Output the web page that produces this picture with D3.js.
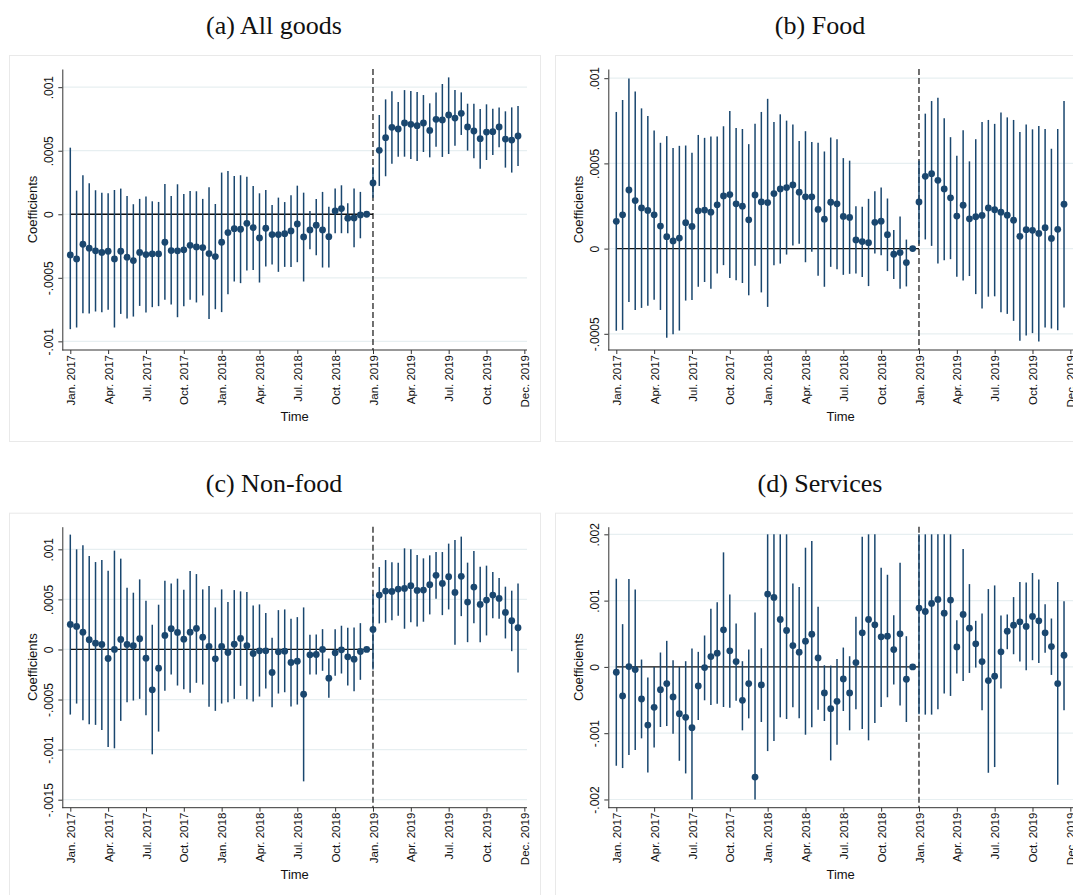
<!DOCTYPE html>
<html>
<head>
<meta charset="utf-8">
<script src="https://cdn.jsdelivr.net/npm/d3@7"></script>
<style>
  html, body { margin: 0; padding: 0; background: #fff; }
  svg { display: block; }
</style>
</head>
<body>
<svg id="chart" width="1073" height="895"></svg>
<script>
// ---------- DATA (coefficients in units of 0.001; semi-monthly periods 0..71, Jan 2019 = 48, period 47 omitted) ----------
const xTickPeriods = [0, 6, 12, 18, 24, 30, 36, 42, 48, 54, 60, 66, 72];
const xTickLabels = ["Jan. 2017","Apr. 2017","Jul. 2017","Oct. 2017","Jan. 2018","Apr. 2018","Jul. 2018","Oct. 2018","Jan. 2019","Apr. 2019","Jul. 2019","Oct. 2019","Dec. 2019"];
const treatPeriod = 48;

const allGoodsCoef = [-0.320,-0.351,-0.236,-0.267,-0.288,-0.301,-0.291,-0.351,-0.291,-0.338,
  -0.364,-0.301,-0.317,-0.312,-0.312,-0.220,-0.286,-0.288,-0.280,-0.244,
  -0.257,-0.262,-0.309,-0.333,-0.220,-0.144,-0.113,-0.118,-0.071,-0.105,
  -0.186,-0.110,-0.160,-0.160,-0.153,-0.131,-0.076,-0.178,-0.123,-0.086,
  -0.123,-0.176,0.026,0.045,-0.031,-0.029,-0.005,0,
  0.246,0.503,0.603,0.684,0.671,0.718,0.708,0.697,0.718,0.660,
  0.747,0.742,0.781,0.757,0.794,0.687,0.655,0.595,0.647,0.650,
  0.687,0.592,0.584,0.616];
const allGoodsHi = [0.524,0.186,0.307,0.244,0.189,0.170,0.165,0.191,0.202,0.144,
  0.079,0.121,0.139,0.102,0.097,0.238,0.144,0.236,0.160,0.183,
  0.181,0.121,0.212,0.081,0.328,0.341,0.301,0.307,0.296,0.223,
  0.165,0.191,0.073,0.131,0.096,0.149,0.225,0.170,0.026,0.121,
  0.176,0.060,0.202,0.228,0.086,0.202,0.176,null,
  0.37,0.781,0.904,0.967,0.883,0.977,0.970,0.962,0.938,0.873,
  0.959,1.025,1.077,0.977,0.959,0.870,0.870,0.828,0.865,0.831,
  0.841,0.810,0.841,0.852];
const allGoodsLo = [-0.904,-0.891,-0.778,-0.781,-0.765,-0.770,-0.752,-0.891,-0.784,-0.820,
  -0.805,-0.721,-0.773,-0.731,-0.723,-0.673,-0.710,-0.810,-0.723,-0.673,
  -0.694,-0.639,-0.825,-0.747,-0.770,-0.629,-0.529,-0.542,-0.443,-0.438,
  -0.537,-0.411,-0.396,-0.453,-0.414,-0.414,-0.377,-0.529,-0.275,-0.322,
  -0.419,-0.419,-0.149,-0.149,-0.149,-0.259,-0.189,null,
  0.13,0.223,0.299,0.398,0.453,0.453,0.435,0.419,0.490,0.448,
  0.532,0.451,0.474,0.540,0.624,0.501,0.440,0.359,0.427,0.466,
  0.527,0.367,0.328,0.380];

const foodCoef = [0.160,0.198,0.344,0.282,0.239,0.224,0.198,0.132,0.070,0.045,
  0.062,0.152,0.130,0.222,0.226,0.214,0.257,0.309,0.317,0.263,
  0.249,0.169,0.315,0.274,0.270,0.323,0.350,0.358,0.374,0.331,
  0.304,0.304,0.230,0.173,0.272,0.263,0.189,0.183,0.051,0.041,
  0.035,0.154,0.161,0.082,-0.033,-0.023,-0.082,0,
  0.274,0.424,0.440,0.401,0.350,0.298,0.191,0.255,0.175,0.187,
  0.195,0.239,0.228,0.214,0.196,0.167,0.072,0.111,0.107,0.089,
  0.123,0.060,0.113,0.261];
const foodHi = [0.802,0.872,0.998,0.922,0.823,0.778,0.693,0.621,0.660,0.591,
  0.603,0.605,0.562,0.667,0.650,0.658,0.658,0.718,0.807,0.708,
  0.702,0.613,0.733,0.802,0.879,0.743,0.788,0.751,0.728,0.632,
  0.689,0.626,0.621,0.570,0.652,0.642,0.531,0.516,0.249,0.245,
  0.292,0.337,0.358,0.294,0.109,0.189,0.053,null,
  0.516,0.792,0.866,0.885,0.765,0.654,0.545,0.695,0.512,0.642,
  0.743,0.755,0.732,0.798,0.770,0.755,0.685,0.728,0.700,0.720,
  0.702,0.586,0.702,0.866];
const foodLo = [-0.482,-0.477,-0.313,-0.360,-0.348,-0.335,-0.300,-0.360,-0.523,-0.502,
  -0.481,-0.305,-0.302,-0.224,-0.196,-0.235,-0.146,-0.097,-0.173,-0.185,
  -0.202,-0.274,-0.101,-0.257,-0.342,-0.097,-0.088,-0.035,0.018,0.029,
  -0.080,-0.019,-0.160,-0.224,-0.107,-0.121,-0.154,-0.148,-0.146,-0.167,
  -0.220,-0.029,-0.039,-0.132,-0.179,-0.235,-0.222,null,
  0.029,0.054,0.016,-0.088,-0.068,-0.062,-0.165,-0.187,-0.161,-0.267,
  -0.352,-0.282,-0.280,-0.374,-0.383,-0.424,-0.541,-0.510,-0.496,-0.545,
  -0.463,-0.469,-0.479,-0.346];

const nonFoodCoef = [0.250,0.230,0.173,0.097,0.063,0.050,-0.090,0.000,0.100,0.050,
  0.037,0.107,-0.087,-0.403,-0.187,0.140,0.207,0.170,0.103,0.173,
  0.210,0.123,0.030,-0.093,0.030,-0.030,0.053,0.110,0.037,-0.040,
  -0.013,-0.013,-0.230,-0.023,-0.017,-0.130,-0.117,-0.447,-0.053,-0.050,
  0.000,-0.287,-0.033,-0.003,-0.073,-0.097,-0.020,0,
  0.200,0.543,0.583,0.580,0.603,0.610,0.637,0.590,0.593,0.647,
  0.740,0.660,0.727,0.570,0.730,0.473,0.623,0.450,0.493,0.543,
  0.510,0.370,0.287,0.217];
const nonFoodHi = [1.147,1.000,1.040,0.933,0.873,0.893,0.787,0.987,0.907,0.617,
  0.567,0.700,0.487,0.247,0.447,0.687,0.660,0.707,0.597,0.783,
  0.753,0.600,0.633,0.420,0.600,0.473,0.593,0.580,0.573,0.440,
  0.450,0.363,0.117,0.393,0.400,0.307,0.323,0.420,0.147,0.150,
  0.203,-0.090,0.203,0.237,0.217,0.220,0.263,null,
  0.55,0.823,0.893,0.870,0.867,1.010,1.000,0.943,0.910,0.940,
  0.973,0.973,1.057,1.093,1.127,0.867,0.983,0.827,0.837,0.773,
  0.713,0.627,0.587,0.660];
const nonFoodLo = [-0.650,-0.540,-0.707,-0.747,-0.753,-0.803,-0.973,-0.987,-0.713,-0.527,
  -0.510,-0.493,-0.657,-1.047,-0.820,-0.413,-0.250,-0.360,-0.397,-0.433,
  -0.333,-0.350,-0.573,-0.613,-0.540,-0.527,-0.493,-0.363,-0.497,-0.520,
  -0.470,-0.390,-0.577,-0.440,-0.427,-0.570,-0.550,-1.317,-0.250,-0.250,
  -0.213,-0.483,-0.263,-0.240,-0.360,-0.417,-0.303,null,
  -0.2,0.260,0.267,0.293,0.337,0.207,0.273,0.230,0.277,0.350,
  0.507,0.343,0.400,0.047,0.333,0.073,0.263,0.073,0.140,0.313,
  0.307,0.110,-0.017,-0.230];

const servicesCoef = [-0.081,-0.438,0.005,-0.040,-0.484,-0.877,-0.610,-0.343,-0.252,-0.453,
  -0.705,-0.761,-0.917,-0.287,-0.010,0.156,0.207,0.559,0.242,0.081,
  -0.504,-0.252,-1.662,-0.272,1.098,1.048,0.715,0.549,0.322,0.222,
  0.388,0.494,0.136,-0.393,-0.630,-0.519,-0.181,-0.393,0.065,0.514,
  0.715,0.635,0.453,0.463,0.262,0.499,-0.186,0,
  0.887,0.836,0.957,1.018,0.811,1.008,0.302,0.791,0.584,0.348,
  0.081,-0.207,-0.141,0.227,0.539,0.630,0.680,0.610,0.761,0.695,
  0.514,0.307,-0.252,0.176];
const servicesHi = [1.330,0.645,1.325,1.169,0.111,-0.161,0.000,0.217,0.393,0.101,
  0.000,0.086,0.277,0.227,0.474,0.877,0.977,1.728,1.093,0.655,
  0.086,0.262,0.821,0.282,3.4,3.2,2.2,2.05,1.259,1.204,
  1.798,1.899,0.907,0.025,0.020,0.121,0.292,0.161,0.756,1.965,
  2.5,2.1,1.496,1.390,0.781,1.572,0.463,null,
  2.5,2.4,2.6,2.7,2.05,2.45,0.705,1.778,1.249,0.695,
  0.806,1.174,1.229,0.776,0.791,1.053,1.280,1.275,1.416,1.320,
  0.947,0.730,1.280,0.992];
const servicesLo = [-1.491,-1.526,-1.330,-1.254,-1.078,-1.592,-1.214,-0.907,-0.892,-1.008,
  -1.416,-1.607,-2.1,-0.801,-0.504,-0.574,-0.554,-0.605,-0.615,-0.509,
  -0.957,-0.776,-4.1,-0.831,-1.270,-1.118,-0.761,-0.786,-0.610,-0.776,
  -1.023,-0.912,-0.645,-0.816,-1.411,-1.174,-0.665,-0.957,-0.640,-0.937,
  -1.108,-0.846,-0.605,-0.458,-0.267,-0.584,-0.831,null,
  -0.715,-0.720,-0.720,-0.640,-0.403,-0.438,-0.101,-0.212,-0.091,-0.010,
  -0.655,-1.597,-1.511,-0.327,0.267,0.191,0.081,-0.050,0.101,0.060,
  0.212,-0.121,-1.778,-0.655];

const yTicksA = [-1, -0.5, 0, 0.5, 1];
const yLabelsA = ["-.001", "-.0005", "0", ".0005", ".001"];
const yTicksB = [-0.5, 0, 0.5, 1];
const yLabelsB = ["-.0005", "0", ".0005", ".001"];
const yTicksC = [-1.5, -1, -0.5, 0, 0.5, 1];
const yLabelsC = ["-.0015", "-.001", "-.0005", "0", ".0005", ".001"];
const yTicksD = [-2, -1, 0, 1, 2];
const yLabelsD = ["-.002", "-.001", "0", ".001", ".002"];

const panelTitles = ["(a) All goods", "(b) Food", "(c) Non-food", "(d) Services"];

// ---------- LAYOUT ----------
const NAVY = "#1a476f";
const colOffset = 546, rowOffset = 457.7;
const base = { axisX: 62.3, right: 527, top: 69, bottom: 350, x0: 70.3, step: 6.306 };

const panels = [
  { title: panelTitles[0], col: 0, row: 0, coef: allGoodsCoef, lo: allGoodsLo, hi: allGoodsHi,
    domain: [-1.068, 1.143], ticks: yTicksA, labels: yLabelsA, clip: null },
  { title: panelTitles[1], col: 1, row: 0, coef: foodCoef, lo: foodLo, hi: foodHi,
    domain: [-0.595, 1.054], ticks: yTicksB, labels: yLabelsB, clip: null },
  { title: panelTitles[2], col: 0, row: 1, coef: nonFoodCoef, lo: nonFoodLo, hi: nonFoodHi,
    domain: [-1.58, 1.226], ticks: yTicksC, labels: yLabelsC, clip: null },
  { title: panelTitles[3], col: 1, row: 1, coef: servicesCoef, lo: servicesLo, hi: servicesHi,
    domain: [-2.124, 2.115], ticks: yTicksD, labels: yLabelsD, clip: [-2, 2] },
];

const svg = d3.select("#chart");
svg.append("rect").attr("width", 1073).attr("height", 895).attr("fill", "#fff");

panels.forEach(p => {
  const dx = p.col * colOffset, dy = p.row * rowOffset;
  const g = svg.append("g").attr("transform", `translate(${dx},${dy})`);

  // panel frame
  g.append("rect").attr("x", 9.5).attr("y", 55.5).attr("width", 531).attr("height", 386)
    .attr("fill", "none").attr("stroke", "#e9e9e9").attr("stroke-width", 1);

  // title
  g.append("text").attr("x", 274).attr("y", 34).attr("text-anchor", "middle")
    .attr("font-family", "'Liberation Serif', 'Times New Roman', serif").attr("font-size", 26)
    .attr("fill", "#111").text(p.title);

  const x = d3.scaleLinear().domain([0, 72]).range([base.x0, base.x0 + 72 * base.step]);
  const y = d3.scaleLinear().domain(p.domain).range([base.bottom, base.top]);

  // gridlines
  g.append("g").selectAll("line").data(p.ticks).join("line")
    .attr("x1", base.axisX).attr("x2", base.right)
    .attr("y1", d => y(d)).attr("y2", d => y(d))
    .attr("stroke", "#e7eff1").attr("stroke-width", 1.2);

  // y axis
  const yAxis = d3.axisLeft(y).tickValues(p.ticks)
    .tickFormat((d, i) => p.labels[i]).tickSize(4).tickSizeOuter(0);
  const ya = g.append("g").attr("transform", `translate(${base.axisX},0)`).call(yAxis);
  ya.select(".domain").attr("stroke", "#333");
  ya.selectAll(".tick line").attr("stroke", "#333");
  ya.selectAll(".tick text")
    .attr("x", null).attr("dy", null)
    .attr("transform", "translate(-9,0) rotate(-90)")
    .attr("text-anchor", "middle")
    .attr("font-family", "'Liberation Sans', Arial, sans-serif").attr("font-size", 12).attr("fill", "#111");

  // x axis
  const xAxis = d3.axisBottom(x).tickValues(xTickPeriods)
    .tickFormat((d, i) => xTickLabels[i]).tickSize(4).tickSizeOuter(0);
  const xa = g.append("g").attr("transform", `translate(0,${base.bottom})`).call(xAxis);
  xa.select(".domain").remove();
  xa.append("line").attr("x1", base.axisX).attr("x2", base.right).attr("y1", 0).attr("y2", 0)
    .attr("stroke", "#333");
  xa.selectAll(".tick line").attr("stroke", "#333");
  xa.selectAll(".tick text")
    .attr("y", 0).attr("x", -5).attr("dy", "0.35em")
    .attr("transform", "rotate(-90)").attr("text-anchor", "end")
    .attr("font-family", "'Liberation Sans', Arial, sans-serif").attr("font-size", 11.5).attr("fill", "#111");

  // axis titles
  g.append("text").attr("transform", `translate(37,${(base.top + base.bottom) / 2}) rotate(-90)`)
    .attr("text-anchor", "middle").attr("font-family", "'Liberation Sans', Arial, sans-serif")
    .attr("font-size", 13).attr("fill", "#111").text("Coefficients");
  g.append("text").attr("x", (base.axisX + base.right) / 2).attr("y", 421)
    .attr("text-anchor", "middle").attr("font-family", "'Liberation Sans', Arial, sans-serif")
    .attr("font-size", 13).attr("fill", "#111").text("Time");

  // zero line (pre-period)
  g.append("line").attr("x1", x(0)).attr("x2", x(treatPeriod))
    .attr("y1", y(0)).attr("y2", y(0)).attr("stroke", "#111").attr("stroke-width", 1.3);

  // treatment dashed line
  g.append("line").attr("x1", x(treatPeriod)).attr("x2", x(treatPeriod))
    .attr("y1", base.top).attr("y2", base.bottom)
    .attr("stroke", "#111").attr("stroke-width", 1.2).attr("stroke-dasharray", "6,3");

  const clamp = v => p.clip ? Math.max(p.clip[0], Math.min(p.clip[1], v)) : v;
  const data = p.coef.map((c, i) => ({ i, c, lo: p.lo[i], hi: p.hi[i] }));

  // CI spikes
  g.append("g").selectAll("line").data(data.filter(d => d.lo !== null && d.hi !== null)).join("line")
    .attr("x1", d => x(d.i)).attr("x2", d => x(d.i))
    .attr("y1", d => y(clamp(d.lo))).attr("y2", d => y(clamp(d.hi)))
    .attr("stroke", NAVY).attr("stroke-width", 1.5);

  // points
  g.append("g").selectAll("circle").data(data).join("circle")
    .attr("cx", d => x(d.i)).attr("cy", d => y(d.c)).attr("r", 3.4)
    .attr("fill", NAVY);
});
</script>
</body>
</html>
